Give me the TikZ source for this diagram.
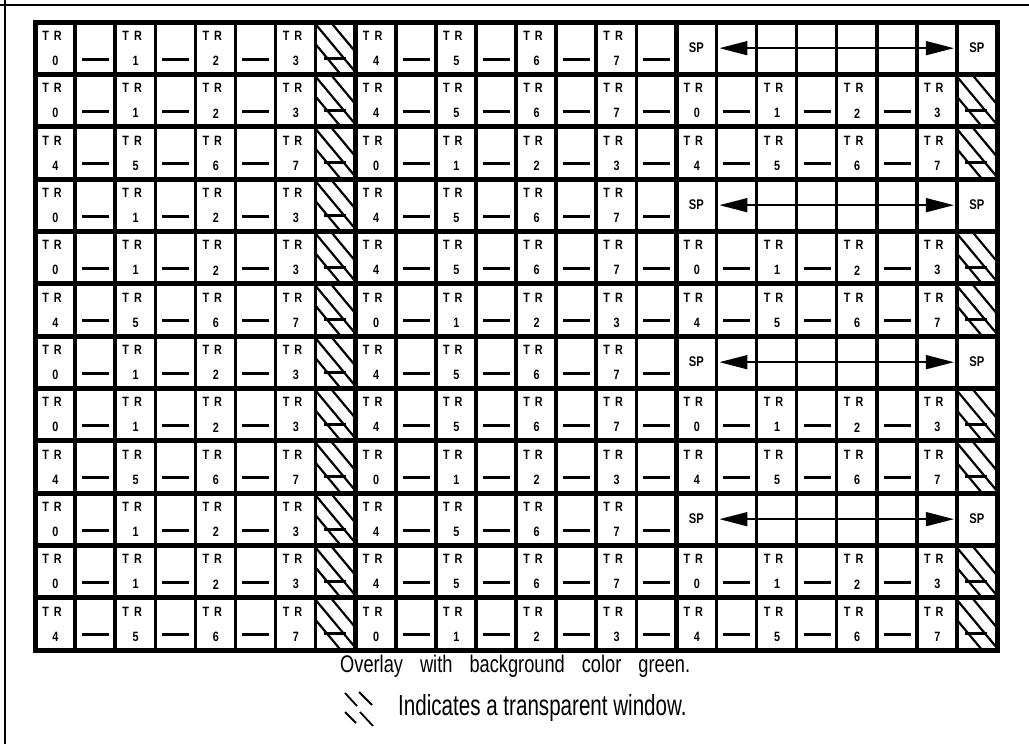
\documentclass[tikz,border=0pt]{standalone}
\usepackage{fontspec}
\setmainfont{Liberation Sans}
\newfontfamily\cellfont[FakeStretch=0.8]{Liberation Sans}
\newfontfamily\legendfont[FakeStretch=0.76]{Liberation Sans}
\newfontfamily\legendfontb[FakeStretch=0.71]{Liberation Sans}
\usetikzlibrary{arrows.meta}
\tikzset{
  cellbox/.style={minimum width=40.083pt, minimum height=52.333pt, inner sep=0pt, outer sep=0pt},
  trlabel/.style={font=\cellfont\bfseries\fontsize{13.5}{13.5}\selectfont, inner sep=0pt},
  numlabel/.style={font=\cellfont\bfseries\fontsize{13.5}{13.5}\selectfont, inner sep=0pt},
  splabel/.style={font=\cellfont\bfseries\fontsize{14}{14}\selectfont, inner sep=0pt},
  bar/.style={line width=3pt},
  hatchline/.style={line width=2.2pt},
  gridv/.style={line width=3.5pt},
  gridthick/.style={line width=5pt},
  sparrow/.style={line width=1.6pt, {Triangle[length=28pt,width=14pt]}-{Triangle[length=28pt,width=14pt]}, shorten <=3pt, shorten >=3pt},
  frameline/.style={line width=2.5pt},
  legendtext/.style={anchor=base west, inner sep=0pt},
}
\begin{document}
\begin{tikzpicture}[x=1pt,y=-1pt]
\useasboundingbox (0,0) rectangle (1029,744);
\fill[white] (0,0) rectangle (1029,744);
% cell nodes
\foreach \r in {1,...,12}{
  \foreach \c in {1,...,24}{
    \node[cellbox] (cell-\r-\c) at ({35+(\c-0.5)*40.0833},{22+(\r-0.5)*52.3333}) {};
  }
}
% contents
\foreach \r in {1,...,12}{
  \pgfmathtruncatemacro\t{mod(\r,3)}
  \foreach \c in {1,...,24}{
    \pgfmathsetmacro\xl{35+(\c-1)*40.0833}
    \pgfmathsetmacro\yt{22+(\r-1)*52.3333}
    \pgfmathtruncatemacro\g{int((\c-1)/8)}
    \pgfmathtruncatemacro\k{\c-1-8*\g}
    \pgfmathtruncatemacro\spzone{and(\t==1,\g==2)}
    \pgfmathtruncatemacro\dig{\k/2+4*mod((\t==0)+(\g==1),2)}
    \ifnum\spzone=1
      \ifnum\c=17 \node[splabel] (sp-\r-\c) at (cell-\r-\c) {SP};\fi
      \ifnum\c=24 \node[splabel] (sp-\r-\c) at (cell-\r-\c) {SP};\fi
    \else
      \ifodd\c
        \node[trlabel] (tr-\r-\c) at (\xl+17,\yt+14) {T\hspace{5pt}R};
        \node[numlabel] (n-\r-\c) at (\xl+20.5,\yt+39) {\dig};
      \else
        \ifnum\k=7
          \ifnum\c=16
            \draw[bar] (\xl+7,\yt+37) -- (\xl+34,\yt+37);
          \else
            \begin{scope}
              \clip (\xl+1,\yt+2) rectangle (\xl+39,\yt+51);
              \draw[hatchline] (\xl+15,\yt) -- ++(45,54);
              \draw[hatchline] (\xl-1,\yt+1) -- ++(45,54);
              \draw[hatchline] (\xl-1,\yt+21) -- ++(45,54);
            \end{scope}
            \draw[bar] (\xl+8,\yt+36) -- (\xl+30,\yt+36);
          \fi
        \else
          \draw[bar] (\xl+7,\yt+37) -- (\xl+34,\yt+37);
        \fi
      \fi
    \fi
  }
}
% grid
\foreach \j in {1,...,23}{
  \draw[gridv] ({35+\j*40.0833},22) -- ({35+\j*40.0833},650);
}
\foreach \j in {8,16}{
  \draw[gridthick] ({35+\j*40.0833},22) -- ({35+\j*40.0833},650);
}
\foreach \i in {1,...,11}{
  \draw[gridthick] (35,{22+\i*52.3333}) -- (997,{22+\i*52.3333});
}
\draw[gridthick] (35,22) rectangle (997,650);
% arrows
\foreach \r in {1,4,7,10}{
  \draw[sparrow] (cell-\r-17.east) -- (cell-\r-24.west);
}
% frame
\draw[frameline] (0,5) -- (1029,5);
\draw[frameline] (5,0) -- (5,744);
% legend
\node[legendtext, font=\legendfont\fontsize{24}{24}\selectfont] (overlay) at (340,672)
  {\hbox to 350pt{Overlay\hfill with\hfill background\hfill color\hfill green.}};
\draw[line width=1.8pt] (345,693) -- (357,706);
\draw[line width=1.8pt] (359,692) -- (372,705);
\draw[line width=1.8pt] (345,712) -- (356,723);
\draw[line width=1.8pt] (360,712) -- (373,726);
\node[legendtext, font=\legendfontb\fontsize{29}{29}\selectfont] (indicates) at (398,715)
  {Indicates a transparent window.};
\end{tikzpicture}
\end{document}
